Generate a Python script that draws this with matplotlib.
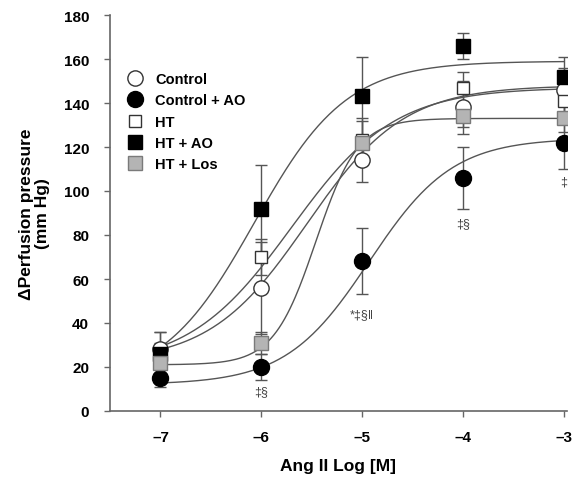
import numpy as np
import matplotlib
matplotlib.use("Agg")
import matplotlib.pyplot as plt
from matplotlib.lines import Line2D

plt.rcParams['font.family'] = ['Liberation Sans', 'DejaVu Sans']
plt.rcParams['font.weight'] = 'bold'

log_dose = [-7, -6, -5, -4, -3]

groups = ["Control", "Control + AO", "HT", "HT + AO", "HT + Los"]

control = [28, 56, 114, 138, 146]
control_err = [8, 21, 10, 12, 10]
control_ao = [15, 20, 68, 106, 122]
control_ao_err = [4, 6, 15, 14, 12]
ht = [25, 70, 123, 147, 141]
ht_err = [6, 8, 10, 7, 8]
ht_ao = [26, 92, 143, 166, 152]
ht_ao_err = [10, 20, 18, 6, 9]
ht_los = [22, 31, 122, 134, 133]
ht_los_err = [6, 5, 10, 5, 6]

# sigmoidal dose-response fits: bottom, top, logEC50, Hill slope
fit_bottom = [22, 12, 20, 12, 21]
fit_top = [148, 124, 147, 159, 133]
fit_logec50 = [-5.55, -4.93, -5.70, -6.07, -5.46]
fit_hill = [0.90, 1.05, 0.85, 0.95, 2.07]

# significance marks below selected Control + AO points
sig_x = [-6, -5, -4, -3]
sig_y = [12, 47, 88, 107]
sig_text = ["\u2021\u00a7", "*\u2021\u00a7\u2016", "\u2021\u00a7", "\u2021"]

means = [control, control_ao, ht, ht_ao, ht_los]
errs = [control_err, control_ao_err, ht_err, ht_ao_err, ht_los_err]
styles = [
    dict(marker='o', mfc='white', mec='#333333', ms=11),
    dict(marker='o', mfc='black', mec='black', ms=11.5),
    dict(marker='s', mfc='white', mec='#333333', ms=9),
    dict(marker='s', mfc='black', mec='black', ms=9.5),
    dict(marker='s', mfc='#b4b4b4', mec='#7a7a7a', ms=9.5),
]

fig = plt.figure(figsize=(5.72, 4.89), dpi=100)
ax = fig.add_axes([110 / 572, 1 - 412 / 489, (567 - 110) / 572, (412 - 16) / 489])

xs = np.linspace(-7, -3, 300)
for b, t, ec, h in zip(fit_bottom, fit_top, fit_logec50, fit_hill):
    ys = b + (t - b) / (1 + 10 ** ((ec - xs) * h))
    ax.plot(xs, ys, color='#555555', lw=1.0, zorder=2)

for m, e in zip(means, errs):
    ax.errorbar(log_dose, m, yerr=e, fmt='none', ecolor='#555555',
                elinewidth=1.0, capsize=4, capthick=1.0, zorder=3)
for m, st in zip(means, styles):
    ax.plot(log_dose, m, linestyle='none', mew=1.0, zorder=4, **st)

for x, y, s in zip(sig_x, sig_y, sig_text):
    ax.text(x, y, s, ha='center', va='top', fontsize=9, color='#444444',
            fontweight='normal')

ax.set_xlim(-7.5, -2.97)
ax.set_ylim(0, 180)
ax.set_xticks(log_dose)
ax.set_xticklabels(["\u2013%d" % abs(v) for v in log_dose])
ax.set_yticks(np.arange(0, 181, 20))

for side in ['top', 'right']:
    ax.spines[side].set_visible(False)
for side in ['left', 'bottom']:
    ax.spines[side].set_color('#666666')
    ax.spines[side].set_linewidth(1.2)
ax.tick_params(direction='out', length=4, width=1.0, color='#666666',
               labelsize=11)
ax.tick_params(axis='x', pad=9.5)
ax.tick_params(axis='y', pad=11)
for lab in ax.get_xticklabels() + ax.get_yticklabels():
    lab.set_fontweight('bold')

ax.set_xlabel("Ang II Log [M]", fontsize=12.5, fontweight='bold', labelpad=10)
ax.set_ylabel("\u0394Perfusion pressure\n(mm Hg)", fontsize=12.5,
              fontweight='bold', labelpad=10, linespacing=1.1)

handles = [Line2D([], [], linestyle='none', mew=1.0, **st) for st in styles]
leg = ax.legend(handles, groups, loc='upper left', frameon=False,
                bbox_to_anchor=(0.0, 0.90), fontsize=10.5, handlelength=1.0,
                handletextpad=0.9, labelspacing=0.5, borderaxespad=0.8)
for txt in leg.get_texts():
    txt.set_fontweight('bold')

fig.savefig("out.png", dpi=100)
